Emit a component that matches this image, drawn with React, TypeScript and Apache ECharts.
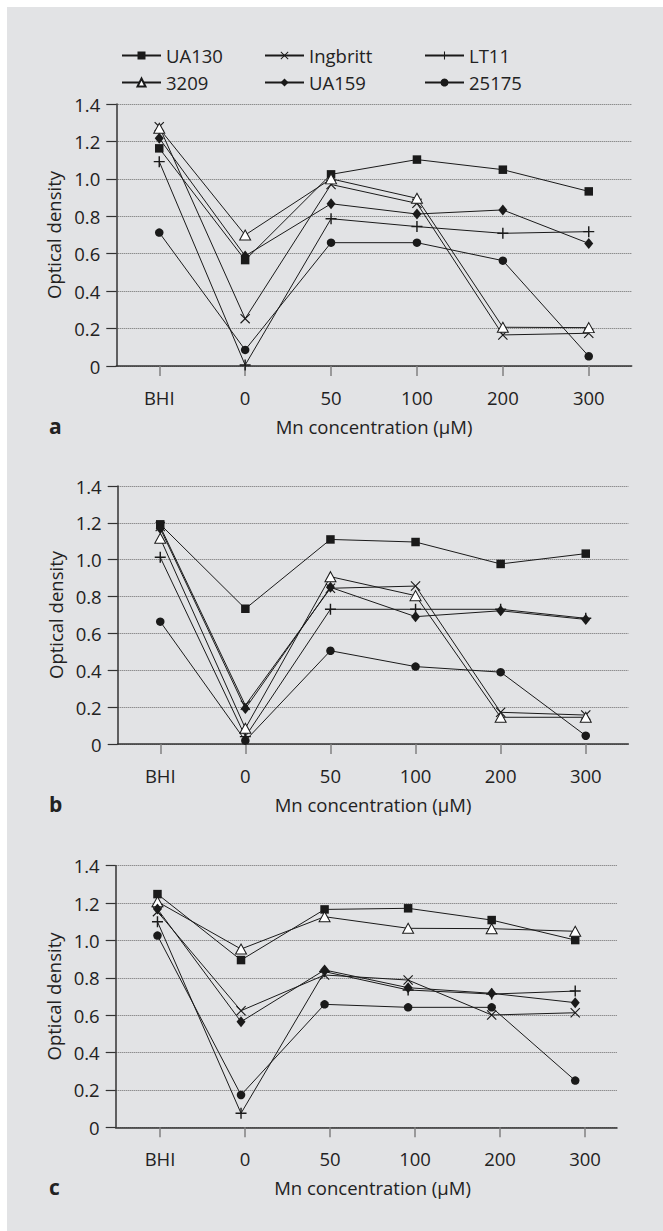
import React, { useEffect, useRef } from 'react';
import * as echarts from 'echarts';

const categories = ['BHI', '0', '50', '100', '200', '300'];
const yTickLabels = ['0', '0.2', '0.4', '0.6', '0.8', '1.0', '1.2', '1.4'];
const strains = ['UA130', 'Ingbritt', 'LT11', '3209', 'UA159', '25175'];

// Panel a
const aUA130 = [1.163, 0.566, 1.024, 1.103, 1.049, 0.933];
const aIngbritt = [1.279, 0.253, 0.97, 0.869, 0.166, 0.175];
const aLT11 = [1.092, 0.005, 0.787, 0.745, 0.709, 0.718];
const a3209 = [1.27, 0.7, 1.0, 0.896, 0.207, 0.205];
const aUA159 = [1.217, 0.588, 0.867, 0.812, 0.834, 0.655];
const a25175 = [0.713, 0.086, 0.659, 0.659, 0.563, 0.052];

// Panel b
const bUA130 = [1.192, 0.734, 1.11, 1.096, 0.977, 1.033];
const bIngbritt = [1.18, 0.21, 0.845, 0.857, 0.172, 0.157];
const bLT11 = [1.013, 0.04, 0.731, 0.731, 0.731, 0.682];
const b3209 = [1.116, 0.085, 0.908, 0.805, 0.145, 0.145];
const bUA159 = [1.17, 0.192, 0.85, 0.691, 0.723, 0.676];
const b25175 = [0.664, 0.018, 0.506, 0.42, 0.39, 0.045];

// Panel c
const cUA130 = [1.248, 0.895, 1.166, 1.172, 1.109, 1.002];
const cIngbritt = [1.154, 0.624, 0.815, 0.788, 0.601, 0.613];
const cLT11 = [1.1, 0.075, 0.833, 0.735, 0.713, 0.729];
const c3209 = [1.207, 0.954, 1.127, 1.065, 1.063, 1.049];
const cUA159 = [1.168, 0.565, 0.842, 0.747, 0.717, 0.667];
const c25175 = [1.026, 0.173, 0.658, 0.642, 0.642, 0.25];

const panelData = [
  [aUA130, aIngbritt, aLT11, a3209, aUA159, a25175],
  [bUA130, bIngbritt, bLT11, b3209, bUA159, b25175],
  [cUA130, cIngbritt, cLT11, c3209, cUA159, c25175],
];
const panelLetters = ['a', 'b', 'c'];

const CROSS = 'path://M0,0.8L0.8,0L10,9.2L9.2,10Z M9.2,0L10,0.8L0.8,10L0,9.2Z';
const PLUS = 'path://M4.35,0H5.65V10H4.35Z M0,4.35H10V5.65H0Z';

const INK = '#1a1a1a';
const TEXT = '#222';
const FONT = 'Open Sans';
const FS = 18.5;

const symbolStyles: any[] = [
  { symbol: 'rect', symbolSize: 8.5, itemStyle: { color: INK, borderWidth: 0 } },
  { symbol: CROSS, symbolSize: 10, itemStyle: { color: INK, borderWidth: 0 } },
  { symbol: PLUS, symbolSize: 11, itemStyle: { color: INK, borderWidth: 0 } },
  { symbol: 'triangle', symbolSize: [11, 10], itemStyle: { color: '#fff', borderColor: INK, borderWidth: 1 } },
  { symbol: 'diamond', symbolSize: [9, 11], itemStyle: { color: INK, borderWidth: 0 } },
  { symbol: 'circle', symbolSize: 8.5, itemStyle: { color: INK, borderWidth: 0 } },
];

const OX = 7;
const OY = 7;

export default function App() {
  const ref = useRef<HTMLDivElement>(null);

  useEffect(() => {
    document.body.style.margin = '0';
    if (!ref.current) return;
    const chart = echarts.init(ref.current, undefined, { renderer: 'svg' });

    // grid rects in page pixels
    const grids = [
      { left: 116.3, top: 104, width: 515.4, height: 262 },
      { left: 117.7, top: 486, width: 510.6, height: 258 },
      { left: 115.7, top: 865.7, width: 501.3, height: 261.6 },
      { left: 117.5, top: 865.7, width: 510, height: 261.6 },
    ];

    const yAxisBase = (show: boolean, gridIndex: number) => ({
      type: 'value',
      gridIndex,
      show,
      min: 0,
      max: 1.4,
      interval: 0.2,
      axisLine: { show: true, lineStyle: { color: '#333', width: 1.5 } },
      axisTick: { show: true, length: 10, lineStyle: { color: '#333', width: 1.2 } },
      axisLabel: {
        margin: 16,
        fontSize: FS,
        color: TEXT,
        fontFamily: FONT,
        formatter: (v: number) => yTickLabels[Math.round(v / 0.2)],
      },
      splitLine: { show: true, lineStyle: { type: 'dotted', color: '#6a6a6a', width: 1 } },
      name: 'Optical density',
      nameLocation: 'middle',
      nameGap: 50,
      nameRotate: 90,
      nameTextStyle: { fontSize: FS, color: TEXT, fontFamily: FONT },
    });

    const xAxisBase = (gridIndex: number, opts: any) => ({
      type: 'category',
      gridIndex,
      data: categories,
      boundaryGap: true,
      axisLine: { show: opts.line, lineStyle: { color: '#333', width: 1.5 } },
      axisTick: { show: opts.ticks, alignWithLabel: true, length: 10, lineStyle: { color: '#808080', width: 1.5 } },
      axisLabel: { show: opts.ticks, margin: 22, fontSize: FS, color: TEXT, fontFamily: FONT },
      splitLine: { show: false },
      name: opts.name ? 'Mn concentration (μM)' : '',
      nameLocation: 'middle',
      nameGap: 51,
      nameTextStyle: { fontSize: FS, color: TEXT, fontFamily: FONT },
    });

    const xAxes = [
      xAxisBase(0, { line: true, ticks: true, name: true }),
      xAxisBase(1, { line: true, ticks: true, name: true }),
      xAxisBase(2, { line: true, ticks: false, name: false }),
      xAxisBase(3, { line: false, ticks: true, name: true }),
    ];
    const yAxes = [yAxisBase(true, 0), yAxisBase(true, 1), yAxisBase(true, 2), yAxisBase(false, 3)];

    const series: any[] = [];
    panelData.forEach((panel, p) => {
      panel.forEach((values, s) => {
        const st = symbolStyles[s];
        series.push({
          type: 'line',
          name: strains[s],
          xAxisIndex: p,
          yAxisIndex: p,
          data: values,
          symbol: st.symbol,
          symbolSize: st.symbolSize,
          showAllSymbol: true,
          itemStyle: st.itemStyle,
          lineStyle: { color: INK, width: 1 },
          emphasis: { disabled: true },
          z: 2 + s * 0.01,
        });
      });
    });

    const legendCols = [
      { names: ['UA130', '3209'], left: 116 },
      { names: ['Ingbritt', 'UA159'], left: 259 },
      { names: ['LT11', '25175'], left: 419 },
    ];

    const axisZeroY = [366, 744, 1127.3];

    chart.setOption({
      animation: false,
      backgroundColor: '#e2e3e5',
      textStyle: { fontFamily: FONT },
      grid: grids.map((g) => ({
        left: g.left - OX,
        top: g.top - OY,
        width: g.width,
        height: g.height,
        containLabel: false,
      })),
      xAxis: xAxes,
      yAxis: yAxes,
      legend: legendCols.map((c) => ({
        data: c.names,
        orient: 'vertical',
        left: c.left - OX,
        top: 41 - OY,
        itemWidth: 39,
        itemHeight: 10,
        itemGap: 8,
        selectedMode: false,
        textStyle: { fontSize: FS, color: TEXT, fontFamily: FONT },
      })),
      graphic: panelLetters.map((t, i) => ({
        type: 'text',
        x: 49 - OX,
        y: axisZeroY[i] + 60 - OY,
        silent: true,
        style: {
          text: t,
          fontSize: 21,
          fontWeight: 'bold',
          fontFamily: FONT,
          fill: TEXT,
          verticalAlign: 'middle',
        },
      })),
      series,
    });

    return () => chart.dispose();
  }, []);

  return (
    <div style={{ position: 'relative', width: 663, height: 1231, background: '#fff' }}>
      <div
        ref={ref}
        style={{ position: 'absolute', left: OX, top: OY, width: 663 - OX, height: 1231 - OY }}
      />
    </div>
  );
}
